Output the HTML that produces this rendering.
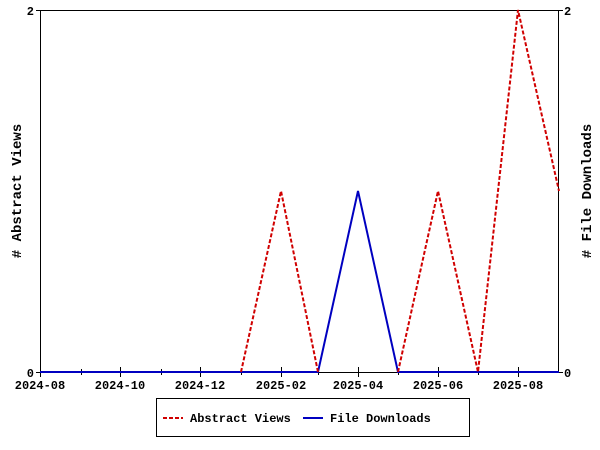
<!DOCTYPE html>
<html><head><style>body{margin:0;background:#fff}svg{display:block}text{font-family:"Liberation Mono","DejaVu Sans Mono",monospace;font-weight:bold;font-size:12px;fill:#000}</style></head>
<body>
<svg width="600" height="450" xmlns="http://www.w3.org/2000/svg">
<rect x="40.5" y="10.5" width="518" height="362" fill="none" stroke="#000" stroke-width="1"/>
<g stroke="#000" stroke-width="1">
<line x1="40.5" y1="367" x2="40.5" y2="377"/><line x1="120.5" y1="367" x2="120.5" y2="377"/><line x1="200.5" y1="367" x2="200.5" y2="377"/><line x1="281.5" y1="367" x2="281.5" y2="377"/><line x1="358.5" y1="367" x2="358.5" y2="377"/><line x1="438.5" y1="367" x2="438.5" y2="377"/><line x1="518.5" y1="367" x2="518.5" y2="377"/>
<line x1="81.5" y1="369" x2="81.5" y2="375"/><line x1="161.5" y1="369" x2="161.5" y2="375"/><line x1="241.5" y1="369" x2="241.5" y2="375"/><line x1="318.5" y1="369" x2="318.5" y2="375"/><line x1="398.5" y1="369" x2="398.5" y2="375"/><line x1="478.5" y1="369" x2="478.5" y2="375"/>
<line x1="36" y1="10.5" x2="40" y2="10.5"/><line x1="36" y1="372.5" x2="40" y2="372.5"/>
<line x1="559" y1="10.5" x2="563" y2="10.5"/><line x1="559" y1="372.5" x2="563" y2="372.5"/>
</g>
<polyline fill="none" stroke="#0000c0" stroke-width="2" points="40,372 318,372 358,191 398,372 559,372"/>
<polyline fill="none" stroke="#d00000" stroke-width="2" stroke-dasharray="4,2" points="241,372 281,191 318,372"/>
<polyline fill="none" stroke="#d00000" stroke-width="2" stroke-dasharray="4,2" points="398,372 438,191 478,372 518,10 559,191"/>
<text x="34" y="15" text-anchor="end">2</text><text x="34" y="377" text-anchor="end">0</text>
<text x="564" y="15">2</text><text x="564" y="377">0</text>
<g text-anchor="middle">
<text x="40" y="389">2024-08</text><text x="120" y="389">2024-10</text><text x="200" y="389">2024-12</text><text x="281" y="389">2025-02</text><text x="358" y="389">2025-04</text><text x="438" y="389">2025-06</text><text x="518" y="389">2025-08</text>
</g>
<text transform="translate(21,191) rotate(-90)" text-anchor="middle" style="font-size:14px;white-space:pre" xml:space="preserve"># Abstract Views</text>
<text transform="translate(591,191) rotate(-90)" text-anchor="middle" style="font-size:14px"># File Downloads</text>
<rect x="156.5" y="398.5" width="313" height="38" fill="none" stroke="#000"/>
<line x1="163" y1="418" x2="183" y2="418" stroke="#d00000" stroke-width="2" stroke-dasharray="4,2"/>
<text x="190" y="422">Abstract Views</text>
<line x1="303" y1="418" x2="323" y2="418" stroke="#0000c0" stroke-width="2"/>
<text x="330" y="422">File Downloads</text>
</svg>
</body></html>
